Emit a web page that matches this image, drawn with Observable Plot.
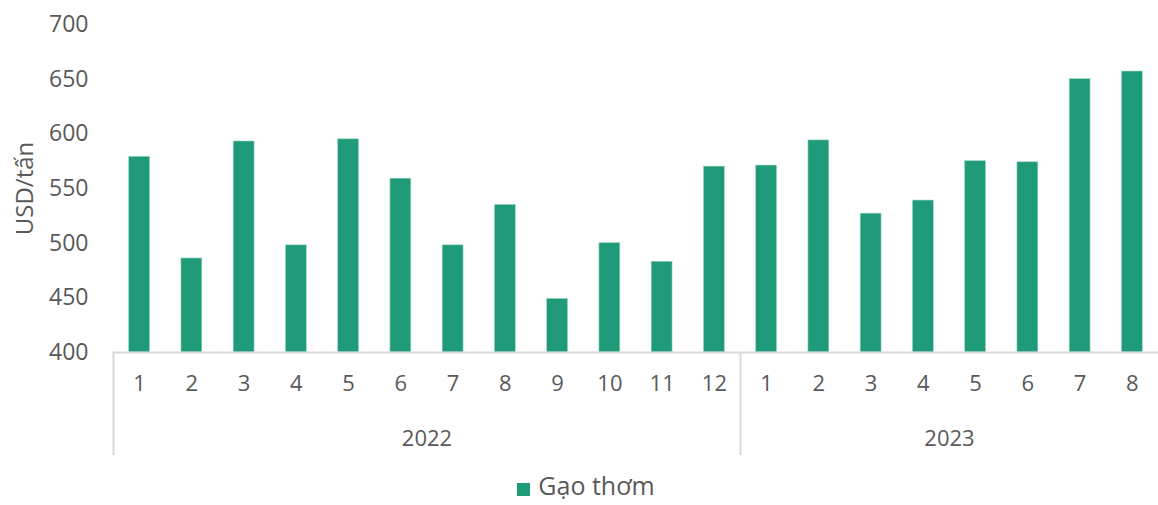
<!DOCTYPE html>
<html>
<head>
<meta charset="utf-8">
<script src="https://cdn.jsdelivr.net/npm/d3@7"></script>
<script src="https://cdn.jsdelivr.net/npm/@observablehq/plot@0.6"></script>
<style>
  html, body { margin: 0; padding: 0; background: #fff; }
  #chart { width: 1158px; }
  .legend { height: 40px; display: flex; justify-content: center; align-items: center; font-family: "Open Sans", sans-serif; font-size: 25px; color: #595959; padding-left: 14px; box-sizing: border-box; width: 1158px; }
  .legend .sw { width: 13px; height: 13px; background: #1f9b79; margin-right: 8px; margin-top: 8px; }
</style>
</head>
<body>
<div id="chart"></div>
<script>
const years = ["2022", "2023"];
const months2022 = ["1","2","3","4","5","6","7","8","9","10","11","12"];
const months2023 = ["1","2","3","4","5","6","7","8"];
const values2022 = [579, 486, 593, 498, 595, 559, 498, 535, 449, 500, 483, 570];
const values2023 = [571, 594, 527, 539, 575, 574, 650, 657];
const yTicks = [400, 450, 500, 550, 600, 650, 700];
const seriesName = "Gạo thơm";
const yLabel = "USD/tấn";

const color = "#1f9b79";
const textColor = "#595959";
const font = '"Open Sans", sans-serif';

const rows = [
  ...months2022.map((m, i) => ({year: years[0], month: m, key: years[0] + "-" + m, value: values2022[i]})),
  ...months2023.map((m, i) => ({year: years[1], month: m, key: years[1] + "-" + m, value: values2023[i]}))
];
const domain = rows.map(d => d.key);
const monthOf = new Map(rows.map(d => [d.key, d.month]));

const width = 1158, height = 465, marginLeft = 113, marginRight = 0;
const step = (width - marginLeft - marginRight) / domain.length;
const half = step / 2;

const groups = years.map(y => {
  const keys = rows.filter(d => d.year === y).map(d => d.key);
  return {year: y, first: keys[0], mid: keys[keys.length / 2 - 1]};
});

const plot = Plot.plot({
  width, height,
  marginLeft, marginRight,
  marginTop: 24,
  marginBottom: 113,
  style: {fontFamily: font, color: textColor, background: "#fff"},
  x: {domain, paddingInner: 0.6, paddingOuter: 0.3, round: false, label: null},
  y: {domain: [400, 700], label: null},
  marks: [
    Plot.barY(rows, {x: "key", y1: 400, y2: "value", fill: color, stroke: "#9fd8c6", strokeWidth: 0.6}),
    Plot.ruleY([400], {stroke: "#d9d9d9", strokeWidth: 2}),
    Plot.ruleX(groups, {x: "first", y1: 400, y2: 400, dx: -half, insetBottom: -103, stroke: "#d9d9d9", strokeWidth: 2}),
    Plot.axisX({tickSize: 0, tickPadding: 23, fontSize: 22, tickFormat: k => monthOf.get(k), label: null, fill: textColor}),
    Plot.axisY({ticks: yTicks, tickSize: 0, tickPadding: 25, fontSize: 23, label: null, fill: textColor}),
    Plot.text([yLabel], {frameAnchor: "left", textAnchor: "middle", dx: -88, rotate: -90, fontSize: 24, fill: textColor, text: d => d}),
    Plot.text(groups, {x: "mid", y: 400, dx: half, dy: 86, text: "year", fontSize: 22, fill: textColor})
  ]
});
document.getElementById("chart").appendChild(plot);

const legend = document.createElement("div");
legend.className = "legend";
legend.innerHTML = '<span class="sw"></span><span></span>';
legend.lastChild.textContent = seriesName;
document.getElementById("chart").appendChild(legend);
</script>
</body>
</html>
